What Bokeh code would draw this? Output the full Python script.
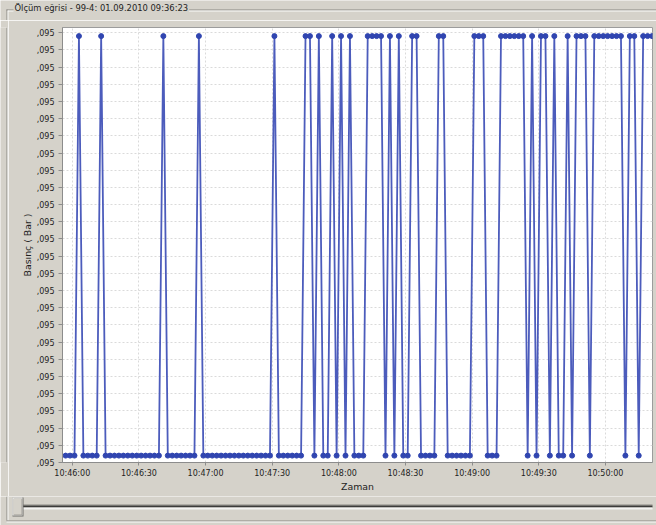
from datetime import datetime

from bokeh.embed import file_html
from bokeh.layouts import column, row
from bokeh.models import (ColumnDataSource, CustomJSTickFormatter, DatetimeTickFormatter,
                          FixedTicker, Label, Range1d)
from bokeh.plotting import figure
from bokeh.resources import INLINE

# ---------------------------------------------------------------------------
# Measurement: pressure readings of device 99-4, logged every two seconds
# ---------------------------------------------------------------------------
record_date = "2010-09-01"
chart_title = "Ölçüm eğrisi - 99-4: 01.09.2010 09:36:23"

sample_times = [
    "10:45:57", "10:45:59", "10:46:01", "10:46:03", "10:46:05", "10:46:07", "10:46:09", "10:46:11", "10:46:13", "10:46:15",
    "10:46:17", "10:46:19", "10:46:21", "10:46:23", "10:46:25", "10:46:27", "10:46:29", "10:46:31", "10:46:33", "10:46:35",
    "10:46:37", "10:46:39", "10:46:41", "10:46:43", "10:46:45", "10:46:47", "10:46:49", "10:46:51", "10:46:53", "10:46:55",
    "10:46:57", "10:46:59", "10:47:01", "10:47:03", "10:47:05", "10:47:07", "10:47:09", "10:47:11", "10:47:13", "10:47:15",
    "10:47:17", "10:47:19", "10:47:21", "10:47:23", "10:47:25", "10:47:27", "10:47:29", "10:47:31", "10:47:33", "10:47:35",
    "10:47:37", "10:47:39", "10:47:41", "10:47:43", "10:47:45", "10:47:47", "10:47:49", "10:47:51", "10:47:53", "10:47:55",
    "10:47:57", "10:47:59", "10:48:01", "10:48:03", "10:48:05", "10:48:07", "10:48:09", "10:48:11", "10:48:13", "10:48:15",
    "10:48:17", "10:48:19", "10:48:21", "10:48:23", "10:48:25", "10:48:27", "10:48:29", "10:48:31", "10:48:33", "10:48:35",
    "10:48:37", "10:48:39", "10:48:41", "10:48:43", "10:48:45", "10:48:47", "10:48:49", "10:48:51", "10:48:53", "10:48:55",
    "10:48:57", "10:48:59", "10:49:01", "10:49:03", "10:49:05", "10:49:07", "10:49:09", "10:49:11", "10:49:13", "10:49:15",
    "10:49:17", "10:49:19", "10:49:21", "10:49:23", "10:49:25", "10:49:27", "10:49:29", "10:49:31", "10:49:33", "10:49:35",
    "10:49:37", "10:49:39", "10:49:41", "10:49:43", "10:49:45", "10:49:47", "10:49:49", "10:49:51", "10:49:53", "10:49:55",
    "10:49:57", "10:49:59", "10:50:01", "10:50:03", "10:50:05", "10:50:07", "10:50:09", "10:50:11", "10:50:13", "10:50:15",
    "10:50:17", "10:50:19", "10:50:21",
]

# Basınç (Bar)
pressure_bar = [
    0.0950004, 0.0950004, 0.0950004, 0.0950248, 0.0950004, 0.0950004, 0.0950004, 0.0950004, 0.0950248, 0.0950004,
    0.0950004, 0.0950004, 0.0950004, 0.0950004, 0.0950004, 0.0950004, 0.0950004, 0.0950004, 0.0950004, 0.0950004,
    0.0950004, 0.0950004, 0.0950248, 0.0950004, 0.0950004, 0.0950004, 0.0950004, 0.0950004, 0.0950004, 0.0950004,
    0.0950248, 0.0950004, 0.0950004, 0.0950004, 0.0950004, 0.0950004, 0.0950004, 0.0950004, 0.0950004, 0.0950004,
    0.0950004, 0.0950004, 0.0950004, 0.0950004, 0.0950004, 0.0950004, 0.0950004, 0.0950248, 0.0950004, 0.0950004,
    0.0950004, 0.0950004, 0.0950004, 0.0950004, 0.0950248, 0.0950248, 0.0950004, 0.0950248, 0.0950004, 0.0950004,
    0.0950248, 0.0950004, 0.0950248, 0.0950004, 0.0950248, 0.0950004, 0.0950004, 0.0950004, 0.0950248, 0.0950248,
    0.0950248, 0.0950248, 0.0950004, 0.0950248, 0.0950004, 0.0950248, 0.0950004, 0.0950004, 0.0950248, 0.0950248,
    0.0950004, 0.0950004, 0.0950004, 0.0950004, 0.0950248, 0.0950248, 0.0950004, 0.0950004, 0.0950004, 0.0950004,
    0.0950004, 0.0950004, 0.0950248, 0.0950248, 0.0950248, 0.0950004, 0.0950004, 0.0950004, 0.0950248, 0.0950248,
    0.0950248, 0.0950248, 0.0950248, 0.0950248, 0.0950004, 0.0950248, 0.0950004, 0.0950248, 0.0950248, 0.0950004,
    0.0950248, 0.0950004, 0.0950004, 0.0950248, 0.0950004, 0.0950248, 0.0950248, 0.0950248, 0.0950004, 0.0950248,
    0.0950248, 0.0950248, 0.0950248, 0.0950248, 0.0950248, 0.0950248, 0.0950004, 0.0950248, 0.0950248, 0.0950004,
    0.0950248, 0.0950248, 0.0950248,
]

x_tick_labels = ["10:46:00", "10:46:30", "10:47:00", "10:47:30", "10:48:00",
                 "10:48:30", "10:49:00", "10:49:30", "10:50:00"]

y_ticks = [0.095000, 0.095001, 0.095002, 0.095003, 0.095004, 0.095005, 0.095006,
           0.095007, 0.095008, 0.095009, 0.095010, 0.095011, 0.095012, 0.095013,
           0.095014, 0.095015, 0.095016, 0.095017, 0.095018, 0.095019, 0.095020,
           0.095021, 0.095022, 0.095023, 0.095024, 0.095025]

x_label = "Zaman"
y_label = "Basınç ( Bar )"


def stamp(hms):
    return datetime.strptime(f"{record_date} {hms}", "%Y-%m-%d %H:%M:%S")


def epoch_ms(hms, extra_s=0.0):
    # Bokeh keeps datetimes as milliseconds since the epoch
    return (stamp(hms).timestamp() + extra_s) * 1000


source = ColumnDataSource(data=dict(t=[stamp(s) for s in sample_times], p=pressure_bar))

W, H = 656, 525
CAP_H = 20          # caption strip on top
FOOT_Y = 496        # slider strip starts here
SIDE_W = 8          # strip holding the left edge of the group box
WIN_BG = "#d5d2ca"
FONT = "DejaVu Sans"
TEXT = "#1e1e1e"
ETCH_DARK, ETCH_LIGHT = "#8a8882", "#fbfbf9"


def strip(w, h):
    """A plain pixel canvas (x to the right, y downwards) for window chrome."""
    f = figure(width=w, height=h, x_range=Range1d(0, w), y_range=Range1d(h, 0),
               output_backend="svg", toolbar_location=None, tools="",
               min_border=0, border_fill_color=WIN_BG, background_fill_color=WIN_BG,
               outline_line_color=None)
    f.axis.visible = False
    f.grid.visible = False
    return f


def panel(f, left, top, right, bottom, color):
    f.quad(left=left, right=right, top=top, bottom=bottom, fill_color=color, line_color=None)


# --- caption strip: group box top edge with its caption -------------------
cap = strip(W, CAP_H)
panel(cap, 6, 9, W, 10, ETCH_DARK)
panel(cap, 7, 10, W, 11, ETCH_LIGHT)
panel(cap, 6, 9, 7, CAP_H, ETCH_DARK)
panel(cap, 7, 10, 8, CAP_H, ETCH_LIGHT)
cap.add_layout(Label(
    x=13, y=7.5, text=chart_title, text_font=FONT, text_font_size="8.4px",
    text_color=TEXT, text_align="left", text_baseline="middle",
    background_fill_color=WIN_BG, background_fill_alpha=1, padding=1,
))

# --- left edge of the group box beside the chart --------------------------
side = strip(SIDE_W, FOOT_Y - CAP_H)
panel(side, 6, 0, 7, FOOT_Y - CAP_H, ETCH_DARK)
panel(side, 7, 0, 8, FOOT_Y - CAP_H, ETCH_LIGHT)

# --- slider strip and group box bottom edge ------------------------------
FOOT_H = H - FOOT_Y
foot = strip(W, FOOT_H)
panel(foot, 6, 0, 7, 520 - FOOT_Y, ETCH_DARK)
panel(foot, 7, 0, 8, 520 - FOOT_Y, ETCH_LIGHT)
panel(foot, 6, 520 - FOOT_Y, W, 521 - FOOT_Y, ETCH_DARK)
panel(foot, 6, 521 - FOOT_Y, W, 522 - FOOT_Y, ETCH_LIGHT)
# track
panel(foot, 18, 504 - FOOT_Y, 652, 505 - FOOT_Y, "#8a8882")
panel(foot, 18, 505 - FOOT_Y, 652, 507 - FOOT_Y, "#3c3c3a")
panel(foot, 18, 507 - FOOT_Y, 652, 509 - FOOT_Y, "#f4f4f2")
# thumb
panel(foot, 12, 497 - FOOT_Y, 23, 516 - FOOT_Y, "#6e6c68")
panel(foot, 12, 497 - FOOT_Y, 22, 515 - FOOT_Y, "#ffffff")
panel(foot, 13, 498 - FOOT_Y, 22, 515 - FOOT_Y, "#a09e98")
panel(foot, 13, 498 - FOOT_Y, 21, 514 - FOOT_Y, WIN_BG)

# ---------------------------------------------------------------------------
# Pressure chart (plot frame spans x 62..652, y 27..462 of the window)
# ---------------------------------------------------------------------------
PW, PH = W - SIDE_W, FOOT_Y - CAP_H
p = figure(
    width=PW, height=PH,
    x_axis_type="datetime",
    x_range=Range1d(epoch_ms("10:45:55", 0.6), epoch_ms("10:50:21", 0.2)),
    y_range=Range1d(0.0950000, 0.0950253),
    output_backend="svg", toolbar_location=None, tools="",
    min_border_left=62 - SIDE_W, min_border_right=W - 652,
    min_border_top=27 - CAP_H, min_border_bottom=FOOT_Y - 462,
    border_fill_color=WIN_BG, background_fill_color="white",
    outline_line_color="#9c9c9c",
)

p.xaxis.ticker = FixedTicker(ticks=[epoch_ms(s) for s in x_tick_labels])
p.xaxis.formatter = DatetimeTickFormatter(seconds="%H:%M:%S", minsec="%H:%M:%S",
                                          minutes="%H:%M:%S", hourmin="%H:%M:%S")
p.yaxis.ticker = FixedTicker(ticks=y_ticks)
p.yaxis.formatter = CustomJSTickFormatter(code="return ',' + tick.toFixed(3).split('.')[1];")

for ax in (p.xaxis[0], p.yaxis[0]):
    ax.axis_line_color = "#8c8c8c"
    ax.major_tick_line_color = "#8c8c8c"
    ax.major_tick_in = 0
    ax.minor_tick_line_color = None
    ax.major_label_text_font = FONT
    ax.major_label_text_font_size = "8px"
    ax.major_label_text_color = TEXT
    ax.axis_label_text_font = FONT
    ax.axis_label_text_font_size = "9.4px"
    ax.axis_label_text_font_style = "normal"
    ax.axis_label_text_color = TEXT

p.xaxis.axis_label = x_label
p.xaxis.major_tick_out = 3
p.xaxis.major_label_standoff = 3
p.xaxis.axis_label_standoff = 0
p.yaxis.axis_label = y_label
p.yaxis.major_tick_out = 4
p.yaxis.major_label_standoff = 4
p.yaxis.axis_label_standoff = 1

for g in (p.xgrid[0], p.ygrid[0]):
    g.grid_line_color = "#dadada"
    g.grid_line_dash = "2 2"
    g.grid_line_width = 1

p.line("t", "p", source=source, line_color="#4c5cbc", line_width=1.8)
p.scatter("t", "p", source=source, size=5, fill_color="#3045b0", line_color="#3045b0")

page = column(cap, row(side, p, spacing=0), foot, spacing=0)

open("out.html", "w").write(file_html(page, INLINE))
